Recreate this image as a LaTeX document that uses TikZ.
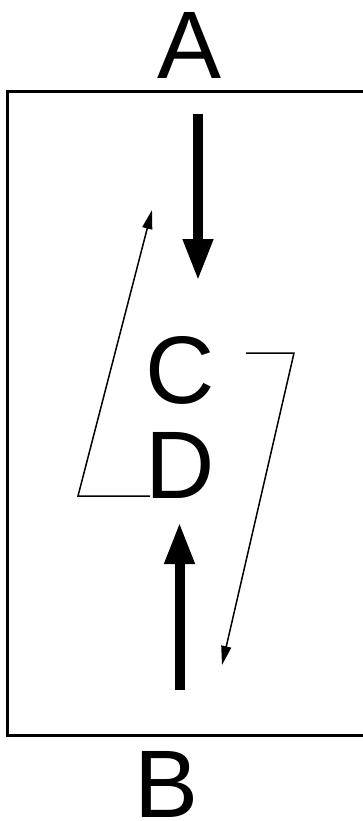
\documentclass[tikz,border=0pt]{standalone}
\usepackage{fontspec}
\setmainfont{Liberation Sans}
\usetikzlibrary{arrows.meta}
\tikzset{
  lbl/.style={anchor=base, inner sep=0pt, font=\fontsize{96}{96}\selectfont},
  bigarrow/.style={line width=10pt, line cap=butt, -{Triangle[length=42pt,width=28pt]}},
  thinarrow/.style={line width=1.5pt, line join=miter, -{Triangle[length=19pt,width=10pt]}},
  frame/.style={line width=3pt}
}
\begin{document}
\begin{tikzpicture}[x=1pt,y=-1pt]
\useasboundingbox (0,0) rectangle (362,821);
\draw[frame] (7.5,91.5) rectangle (366,735);
\node[lbl] (A) at (190,79) {A};
\node[lbl] (C) at (180,403) {C};
\node[lbl] (D) at (180,498) {D};
\node[lbl] (B) at (167,817) {B};
\coordinate (a1) at (198,114);
\coordinate (a2) at (198,281);
\coordinate (b1) at (179.5,690);
\coordinate (b2) at (179.5,522);
\coordinate (l0) at (150,496);
\coordinate (l1) at (78,496);
\coordinate (l2) at (152,210);
\coordinate (r0) at (246,353);
\coordinate (r1) at (294,353);
\coordinate (r2) at (222,665);
\draw[bigarrow] (a1) -- (a2);
\draw[bigarrow] (b1) -- (b2);
\draw[thinarrow] (l0) -- (l1) -- (l2);
\draw[thinarrow] (r0) -- (r1) -- (r2);
\end{tikzpicture}
\end{document}
